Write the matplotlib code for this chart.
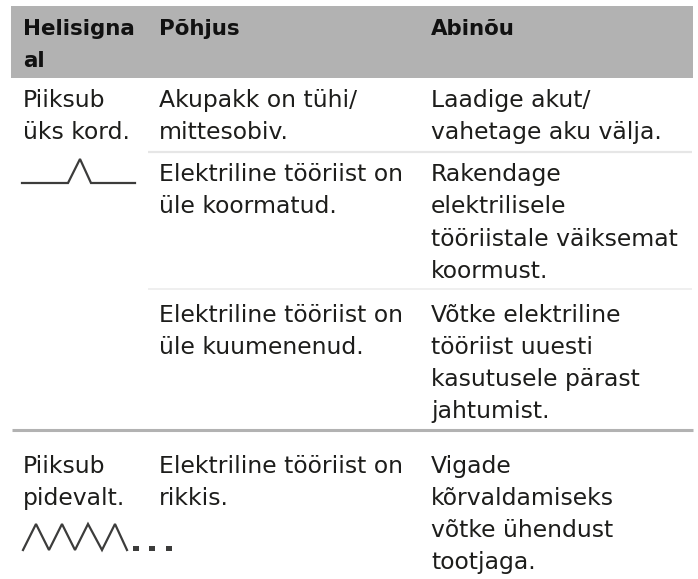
import matplotlib
matplotlib.use("Agg")
import matplotlib.pyplot as plt

W, H = 698, 579
FONT = "DejaVu Sans"
SIZE = 16.9
HEAD_SIZE = 15.4
TEXT = "#1d1d1b"

headers = ["Helisigna\nal", "Põhjus", "Abinõu"]
col_x = [23, 159, 431]
header_base = [35, 35, 35]

signal_cells = [("Piiksub", 107), ("üks kord.", 139), ("Piiksub", 473), ("pidevalt.", 505)]
cause_cells = [("Akupakk on tühi/", 107), ("mittesobiv.", 139),
               ("Elektriline tööriist on", 181), ("üle koormatud.", 213),
               ("Elektriline tööriist on", 322), ("üle kuumenenud.", 354),
               ("Elektriline tööriist on", 473), ("rikkis.", 505)]
remedy_cells = [("Laadige akut/", 107), ("vahetage aku välja.", 139),
                ("Rakendage", 181), ("elektrilisele", 213),
                ("tööriistale väiksemat", 246), ("koormust.", 278),
                ("Võtke elektriline", 322), ("tööriist uuesti", 354),
                ("kasutusele pärast", 386), ("jahtumist.", 418),
                ("Vigade", 473), ("kõrvaldamiseks", 505),
                ("võtke ühendust", 537), ("tootjaga.", 569)]

beep_x = [22, 68, 80, 91, 135]
beep_y = [183, 183, 159, 183, 183]
wave_x = [23, 36, 49, 62, 75, 88, 102, 115, 127]
wave_y = [550, 524, 550, 524, 550, 524, 550, 524, 550]
dots_x = [133, 149, 166]

fig = plt.figure(figsize=(W / 100, H / 100), dpi=100)
ax = fig.add_axes([0, 0, 1, 1])
ax.set_xlim(0, W)
ax.set_ylim(H, 0)
ax.axis("off")

ax.add_patch(plt.Rectangle((11, 6), 682, 72, fc="#b2b2b2", ec="none"))
ax.plot([148, 692], [152, 152], color="#e6e6e6", lw=1.6, solid_capstyle="butt")
ax.plot([148, 692], [289, 289], color="#ececec", lw=1.2, solid_capstyle="butt")
ax.plot([12, 693], [429.5, 429.5], color="#b2b2b2", lw=2.2, solid_capstyle="butt")

for x, label, base in zip(col_x, headers, header_base):
    for i, line in enumerate(label.split("\n")):
        ax.text(x, base + 32 * i, line, fontfamily=FONT, fontsize=HEAD_SIZE, fontweight="bold",
                color="#111111", va="baseline", ha="left")

for x, cells in zip(col_x, (signal_cells, cause_cells, remedy_cells)):
    for line, base in cells:
        ax.text(x, base, line, fontfamily=FONT, fontsize=SIZE, color=TEXT, va="baseline", ha="left")

ax.plot(beep_x, beep_y, color="#3c3c3b", lw=1.6, solid_joinstyle="miter")
ax.plot(wave_x, wave_y, color="#3c3c3b", lw=1.6, solid_joinstyle="miter")
for x in dots_x:
    ax.add_patch(plt.Rectangle((x, 546), 6, 5, fc="#3c3c3b", ec="none"))

fig.savefig("out.png", dpi=100)
